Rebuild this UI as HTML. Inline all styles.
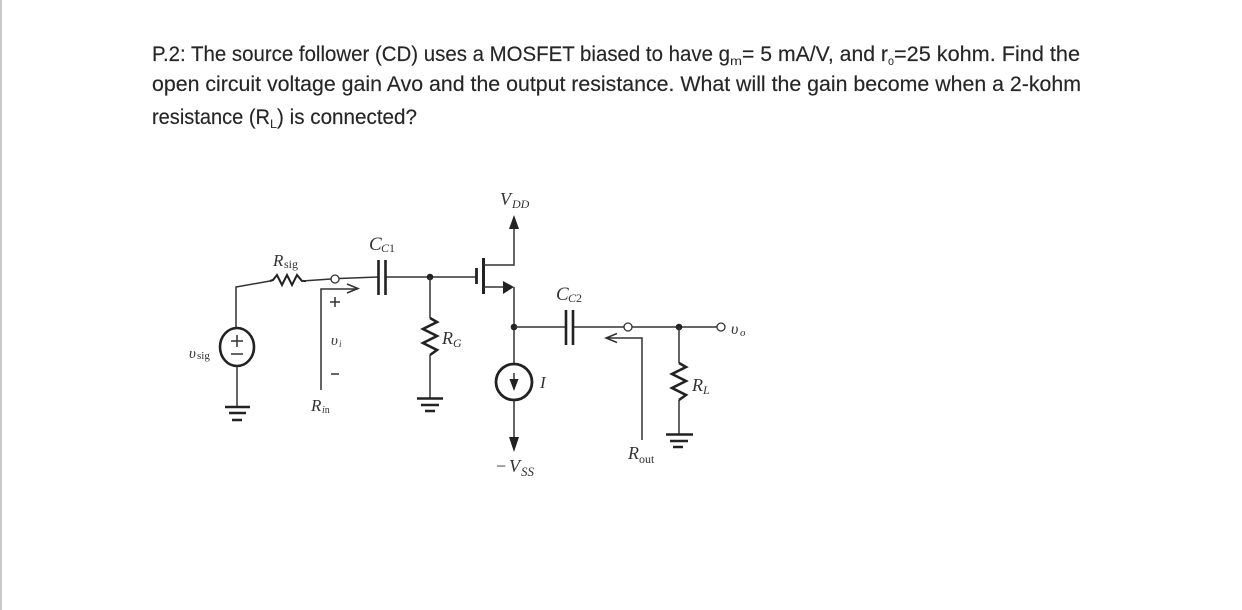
<!DOCTYPE html>
<html><head><meta charset="utf-8"><style>
html,body{margin:0;padding:0;background:#fff}
svg{display:block}
.t{font-family:"Liberation Sans",sans-serif;font-size:21px;fill:#262626;stroke:#262626;stroke-width:.15}
.s{font-family:"Liberation Sans",sans-serif;font-size:12px;fill:#262626}
.m{font-family:"Liberation Serif",serif;font-style:italic;font-size:17px;fill:#333}
.b{font-family:"Liberation Serif",serif;font-style:italic;font-size:10px;fill:#333}
.c{fill:none;stroke:#333;stroke-width:1.5}
.k{fill:none;stroke:#222;stroke-width:2.6}
.d{fill:#222;stroke:none}
.o{fill:#fff;stroke:#333;stroke-width:1.3}
</style></head><body>
<svg width="1242" height="610" viewBox="0 0 1242 610" xmlns="http://www.w3.org/2000/svg">
<defs><filter id="bl" x="0" y="0" width="1" height="1"><feGaussianBlur stdDeviation="0.35"/></filter></defs>
<rect width="1242" height="610" fill="#fff"/>
<rect x="0" y="0" width="2" height="610" fill="#c8c8c8"/>

<text class="t" x="152" y="61" textLength="578" lengthAdjust="spacingAndGlyphs">P.2:  The source follower (CD) uses a MOSFET biased to have g</text>
<text class="s" x="730" y="65" textLength="12" lengthAdjust="spacingAndGlyphs">m</text>
<text class="t" x="742" y="61" textLength="146" lengthAdjust="spacingAndGlyphs">= 5 mA/V, and r</text>
<text class="s" x="888" y="65" textLength="6" lengthAdjust="spacingAndGlyphs">o</text>
<text class="t" x="894" y="61" textLength="186" lengthAdjust="spacingAndGlyphs">=25 kohm.  Find the</text>
<text class="t" x="152" y="91" textLength="929" lengthAdjust="spacingAndGlyphs">open circuit voltage gain Avo and the output resistance.  What will the gain become when a 2-kohm</text>
<text class="t" x="152" y="124" textLength="118" lengthAdjust="spacingAndGlyphs">resistance (R</text>
<text class="s" x="270" y="128" textLength="7" lengthAdjust="spacingAndGlyphs">L</text>
<text class="t" x="277" y="124" textLength="140" lengthAdjust="spacingAndGlyphs">) is connected?</text>

<g filter="url(#bl)">
<!-- input -->
<path class="c" d="M236 327V287L270 281"/>
<path class="k" style="stroke-width:2" d="M270 281l3 -1 4 -5 5 10 5 -10 5 10 5 -10 5 6h4"/>
<path class="c" d="M302 281L331 279"/>
<circle class="o" cx="335" cy="279" r="4"/>
<path class="c" d="M339 278.500L378 277M386 277H476"/>
<path class="k" d="M378.500 260V295M385.500 260V295"/>
<circle class="d" cx="430" cy="277" r="3.300"/>

<ellipse cx="237" cy="347" rx="17" ry="19" fill="#fff" stroke="#222" stroke-width="2.600"/>
<path class="c" d="M231 341h12M237 335v12M231 354h12"/>
<path class="c" d="M237 366V407"/>
<path class="k" d="M225 407H250M229 413H246M232 420H242"/>
<text class="m" x="189" y="358" style="font-size:15px">υ</text>
<text class="b" x="197" y="359" style="font-size:11px;font-style:normal">sig</text>
<text class="m" x="273" y="266" style="font-size:17px">R</text>
<text class="b" x="284" y="268" style="font-style:normal;font-size:12px">sig</text>
<text class="m" x="369" y="250" style="font-size:19px">C</text>
<text class="b" x="381" y="252" style="font-size:12px">C<tspan style="font-style:normal">1</tspan></text>

<!-- Rin -->
<path class="c" d="M321 390V289H358M347 284L358 288.500 347 293"/>
<path class="c" d="M330 302h10M335 297v10M331 374h8"/>
<text class="m" x="331" y="345" style="font-size:15px">υ</text>
<text class="b" x="339" y="347" style="font-size:9px">i</text>
<text class="m" x="311" y="411" style="font-size:17px">R</text>
<text class="b" x="322" y="413" style="font-size:10px">i<tspan style="font-style:normal">n</tspan></text>

<!-- RG -->
<path class="c" d="M430 277V318"/>
<path class="k" d="M430 318l7 4 -14 7 14 7 -14 7 14 7 -7 5"/>
<path class="c" d="M430 355V398"/>
<path class="k" d="M417 398.500H443M421 405H439M425 411H435"/>
<text class="m" x="442" y="344" style="font-size:18px">R</text>
<text class="b" x="453" y="347" style="font-size:12px">G</text>

<!-- MOSFET -->
<path class="k" style="stroke-width:2.800" d="M476.500 268V284"/>
<path class="k" style="stroke-width:3" d="M483.500 258V294"/>
<path class="c" d="M484 265H514V226M484 287H503M514 287V327M514 327V364M514 400V440"/>
<path class="d" d="M503 281L514 287 503 294Z"/>
<path class="d" d="M514 215L519 229H509Z"/>
<text class="m" x="500" y="205" style="font-size:18px">V</text>
<text class="b" x="512" y="208" style="font-size:12px">DD</text>
<circle class="d" cx="514" cy="327" r="3.300"/>

<!-- current source -->
<circle cx="514" cy="382" r="18" fill="#fff" stroke="#222" stroke-width="2.800"/>
<path class="c" d="M514 373V389"/>
<path class="d" d="M514 391L509.500 379H518.500Z"/>
<text class="m" x="540" y="388" style="font-size:17px">I</text>
<path class="d" d="M514 452L509 437H519Z"/>
<text class="m" x="496" y="472" style="font-size:18px;font-style:normal">−</text>
<text class="m" x="509" y="472" style="font-size:18px">V</text>
<text class="b" x="521" y="476" style="font-size:13px">SS</text>

<!-- output -->
<path class="c" d="M514 327H566M574 327H624M632 327H717"/>
<path class="k" d="M566 310V345M573 310V345"/>
<circle class="o" cx="628" cy="327" r="4"/>
<circle class="d" cx="679" cy="327" r="3.300"/>
<circle class="o" cx="721" cy="327" r="4"/>
<text class="m" x="731" y="334" style="font-size:16px">υ</text>
<text class="b" x="740" y="336" style="font-size:11px">o</text>
<text class="m" x="556" y="300" style="font-size:19px">C</text>
<text class="b" x="568" y="302" style="font-size:12px">C<tspan style="font-style:normal">2</tspan></text>

<path class="c" d="M642 440V338H606M617 333.500L606 338 617 342.500"/>
<text class="m" x="628" y="459" style="font-size:18px">R</text>
<text class="b" x="639" y="463" style="font-style:normal;font-size:12px">out</text>

<!-- RL -->
<path class="c" d="M679 327V363M679 400V434"/>
<path class="k" d="M679 363l7 4 -14 7 14 7 -14 7 14 7 -7 5"/>
<path class="k" d="M666 434.500H693M670 441H688M673 447H683"/>
<text class="m" x="692" y="391" style="font-size:18px">R</text>
<text class="b" x="703" y="394" style="font-size:12px">L</text>
</g>
</svg>
</body></html>
